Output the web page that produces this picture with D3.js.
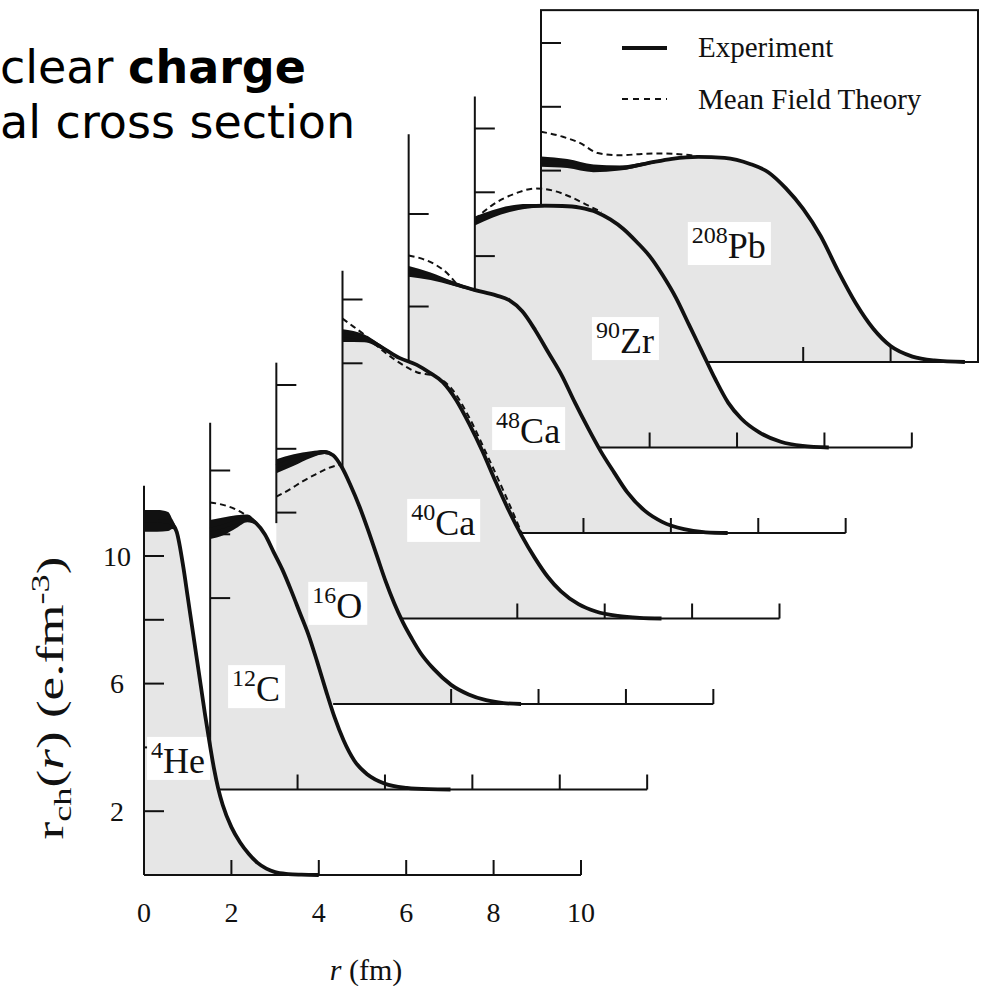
<!DOCTYPE html>
<html><head><meta charset="utf-8">
<script src="https://cdn.jsdelivr.net/npm/d3@7"></script>
<style>body{margin:0;background:#fff}svg{display:block}</style>
</head><body><svg id="c" width="986" height="986"></svg>
<script>
// ---------- data ----------
const labelMass = ["4","12","16","40","48","90","208"];
const labelElem = ["He","C","O","Ca","Ca","Zr","Pb"];
const xTickLabels = ["0","2","4","6","8","10"];
const yTickLabels = ["2","6","10"];

// Experiment: r (fm), rho, error half-width
const rHe   = [0,0.3,0.55,0.65,0.75,0.9,1.0,1.1,1.2,1.3,1.4,1.5,1.6,1.7,1.8,2.0,2.2,2.4,2.6,2.8,3.0,3.3,3.6,4.0];
const expHe = [11.1,11.1,11.08,11.0,10.75,9.65,8.72,7.79,6.86,5.93,5.0,4.15,3.35,2.7,2.2,1.5,1.02,0.66,0.38,0.2,0.09,0.03,0.01,0];
const errHe = [0.34,0.34,0.3,0.15,0.08,0.04,0.03,0.02,0.01,0,0,0,0,0,0,0,0,0,0,0,0,0,0,0];

const rC    = [0,0.3,0.6,0.85,1.05,1.25,1.45,1.65,1.85,2.05,2.25,2.45,2.65,2.85,3.05,3.3,3.6,4.0,4.5,5.0,5.5];
const expC  = [8.15,8.25,8.4,8.5,8.35,8.0,7.45,6.9,6.25,5.55,4.85,4.0,3.1,2.25,1.55,0.9,0.47,0.18,0.05,0.01,0];
const errC  = [0.3,0.28,0.2,0.12,0.06,0.03,0.02,0.01,0,0,0,0,0,0,0,0,0,0,0,0,0];

const rO    = [0,0.4,0.8,1.1,1.3,1.5,1.7,1.9,2.1,2.3,2.5,2.7,2.9,3.1,3.3,3.6,4.0,4.4,4.8,5.2,5.6];
const expO  = [7.45,7.65,7.82,7.9,7.8,7.42,6.85,6.2,5.45,4.65,3.85,3.15,2.55,2.05,1.6,1.1,0.6,0.3,0.12,0.03,0];
const errO  = [0.22,0.18,0.1,0.06,0.03,0.02,0,0,0,0,0,0,0,0,0,0,0,0,0,0,0];

const rCa40   = [0,0.5,0.9,1.3,1.7,2.0,2.3,2.6,2.9,3.2,3.5,3.8,4.1,4.4,4.7,5.0,5.4,5.8,6.3,6.8,7.3];
const expCa40 = [8.87,8.78,8.5,8.17,7.95,7.7,7.4,6.85,6.1,5.25,4.3,3.4,2.6,1.9,1.3,0.85,0.45,0.22,0.08,0.02,0];
const errCa40 = [0.2,0.12,0.06,0.03,0.02,0,0,0,0,0,0,0,0,0,0,0,0,0,0,0,0];

const rCa48   = [0,0.5,1.0,1.5,2.0,2.3,2.6,2.9,3.2,3.5,3.8,4.1,4.4,4.7,5.0,5.4,5.8,6.3,6.8,7.3];
const expCa48 = [8.2,8.05,7.83,7.62,7.45,7.3,6.95,6.35,5.65,4.95,4.1,3.3,2.55,1.9,1.28,0.7,0.35,0.12,0.02,0];
const errCa48 = [0.17,0.12,0.07,0.04,0.02,0,0,0,0,0,0,0,0,0,0,0,0,0,0,0];

const rZr   = [0,0.4,0.8,1.2,1.6,2.0,2.4,2.8,3.1,3.4,3.7,4.0,4.3,4.6,4.9,5.2,5.5,5.8,6.1,6.5,7.0,7.5,8.1];
const expZr = [7.1,7.32,7.48,7.56,7.58,7.57,7.52,7.37,7.15,6.85,6.45,6.0,5.4,4.7,3.85,3.0,2.15,1.4,0.9,0.48,0.18,0.05,0];
const errZr = [0.14,0.12,0.1,0.07,0.05,0.03,0.02,0,0,0,0,0,0,0,0,0,0,0,0,0,0,0,0];

const rPb   = [0,0.6,1.2,1.8,2.4,3.0,3.6,4.2,4.8,5.2,5.6,6.0,6.4,6.8,7.2,7.6,8.0,8.5,9.0,9.7];
const expPb = [6.28,6.22,6.07,6.08,6.22,6.37,6.43,6.4,6.2,5.95,5.45,4.8,3.95,2.85,1.85,1.05,0.5,0.17,0.05,0];
const errPb = [0.16,0.14,0.12,0.08,0.05,0.03,0.02,0,0,0,0,0,0,0,0,0,0,0,0,0];

// Mean field theory (where it departs from experiment)
const mftRC    = [0,0.4,0.7,0.9,1.05];
const mftC     = [9.0,8.88,8.7,8.52,8.35];
const mftRO    = [0,0.3,0.6,0.9,1.2,1.45];
const mftO     = [6.5,6.72,6.98,7.2,7.4,7.5];
const mftRCa40 = [0,0.25,0.5,0.9,1.3,1.7,2.1,2.5,2.9,3.3,3.7,4.1];
const mftCa40  = [9.4,9.15,8.9,8.42,8.02,7.72,7.6,7.2,6.3,5.15,3.95,2.68];
const mftRCa48 = [0,0.3,0.6,0.9,1.1];
const mftCa48  = [8.7,8.6,8.42,8.12,7.8];
const mftRZr   = [0,0.4,0.9,1.4,1.8,2.2,2.6,2.9];
const mftZr    = [7.15,7.6,7.95,8.12,8.05,7.85,7.58,7.38];
const mftRPb   = [0,0.5,0.9,1.3,1.8,2.3,2.8,3.3,3.6];
const mftPb    = [7.22,7.06,6.86,6.55,6.48,6.52,6.54,6.5,6.45];

// per-panel axis extents / ticks (data units)
const yAxisTop    = [12.2,11.5,10.7,10.9,12.5,11.0,11.03];
const yAxisBottom = [0,0,5.67,0,0,0,0];
const xAxisStart  = [0,0,1.3,0,0,0,0];
const yTicks = [[2,4,6,8,10],[6,8,10],[6,8,10],[8,10],[7.1,10],[6,8,10],[6,8,10]];
const xTicks = [[2,4,6,8,10],[2,4,6,8,10],[4,6,8,10],[4,6,8,10],[4,6,8,10],[2,4,6,8,10],[6,8]];
const labelAt = [[0.07,3.2],[0.41,2.77],[0.73,2.7],[1.48,2.62],[1.91,2.82],[2.68,2.96],[3.36,3.26]];

const panels = [
  {r:rHe,v:expHe,e:errHe,mr:[],mv:[]},
  {r:rC,v:expC,e:errC,mr:mftRC,mv:mftC},
  {r:rO,v:expO,e:errO,mr:mftRO,mv:mftO},
  {r:rCa40,v:expCa40,e:errCa40,mr:mftRCa40,mv:mftCa40},
  {r:rCa48,v:expCa48,e:errCa48,mr:mftRCa48,mv:mftCa48},
  {r:rZr,v:expZr,e:errZr,mr:mftRZr,mv:mftZr},
  {r:rPb,v:expPb,e:errPb,mr:mftRPb,mv:mftPb}
];

// ---------- layout ----------
const svg = d3.select("#c");
svg.append("rect").attr("width",986).attr("height",986).attr("fill","#fff");
const x = d3.scaleLinear().domain([0,10]).range([0,437]);
const y = d3.scaleLinear().domain([0,12]).range([0,-382.8]);
const ox0=144, oy0=875, ox1=541, oy1=362;
const n = panels.length;
const stepX=(ox1-ox0)/(n-1), stepY=(oy1-oy0)/(n-1);
const FILL="#e6e6e6", INK="#111";
const serif="Liberation Serif, Times New Roman, serif";

// top-left partial caption
const cap1 = svg.append("text").attr("x",0).attr("y",83)
  .style("font-family","DejaVu Sans").style("font-size","46px").attr("fill","#000");
cap1.append("tspan").text("clear ");
cap1.append("tspan").style("font-weight","bold").text("charge");
svg.append("text").attr("x",0).attr("y",138)
  .style("font-family","DejaVu Sans").style("font-size","46px").attr("fill","#000").text("al cross section");

for (let i=n-1;i>=0;i--){
  const p = panels[i];
  const g = svg.append("g").attr("transform",`translate(${ox0+i*stepX},${oy0+i*stepY})`);
  const pts = p.r.map((r,k)=>({r, v:p.v[k], e:p.e[k]}));
  if (i===n-1){
    g.append("rect").attr("x",0).attr("y",y(yAxisTop[i])).attr("width",x(10)).attr("height",-y(yAxisTop[i]))
      .attr("fill","#fff").attr("stroke",INK).attr("stroke-width",2);
  }
  // gray fill under the curve
  g.append("path").datum(pts)
    .attr("d", d3.area().x(d=>x(d.r)).y0(y(0)).y1(d=>y(d.v+d.e)).curve(d3.curveMonotoneX))
    .attr("fill",FILL);
  // axes
  g.append("line").attr("x1",0).attr("x2",0).attr("y1",y(yAxisBottom[i])).attr("y2",y(yAxisTop[i]))
    .attr("stroke",INK).attr("stroke-width",2);
  yTicks[i].forEach(t=>g.append("line").attr("x1",0).attr("x2",20).attr("y1",y(t)).attr("y2",y(t))
    .attr("stroke",INK).attr("stroke-width",2));
  g.append("line").attr("x1",x(xAxisStart[i])).attr("x2",x(10)).attr("y1",0).attr("y2",0)
    .attr("stroke",INK).attr("stroke-width",2);
  xTicks[i].forEach(t=>g.append("line").attr("x1",x(t)).attr("x2",x(t)).attr("y1",0).attr("y2",-15)
    .attr("stroke",INK).attr("stroke-width",2));
  // nucleus label
  const lx=x(labelAt[i][0]), ly=y(labelAt[i][1]);
  const lg=g.append("g");
  const lr=lg.append("rect");
  const lt=lg.append("text").attr("x",lx+4).attr("y",ly).style("font-family",serif).attr("fill",INK);
  lt.append("tspan").attr("font-size",24).attr("dy",-15).text(labelMass[i]);
  lt.append("tspan").attr("font-size",36).attr("dy",15).text(labelElem[i]);
  const bb=lt.node().getBBox();
  lr.attr("x",lx).attr("y",ly-36).attr("width",bb.width+9).attr("height",43).attr("fill","#fff");
  // mean field theory
  if (p.mr.length){
    g.append("path").datum(p.mr.map((r,k)=>({r,v:p.mv[k]})))
      .attr("d", d3.line().x(d=>x(d.r)).y(d=>y(d.v)).curve(d3.curveMonotoneX))
      .attr("fill","none").attr("stroke",INK).attr("stroke-width",2).attr("stroke-dasharray","6,4");
  }
  // experiment band + line
  g.append("path").datum(pts)
    .attr("d", d3.area().x(d=>x(d.r)).y0(d=>y(d.v-d.e)).y1(d=>y(d.v+d.e)).curve(d3.curveMonotoneX))
    .attr("fill",INK);
  g.append("path").datum(pts)
    .attr("d", d3.line().x(d=>x(d.r)).y(d=>y(d.v)).curve(d3.curveMonotoneX))
    .attr("fill","none").attr("stroke",INK).attr("stroke-width",3.8);
}

// front-panel tick labels
const g0 = svg.append("g").attr("transform",`translate(${ox0},${oy0})`);
xTickLabels.forEach(t=>g0.append("text").attr("x",x(+t)).attr("y",47).attr("text-anchor","middle")
  .style("font-family",serif).style("font-size","28px").attr("fill",INK).text(t));
yTickLabels.forEach(t=>g0.append("text").attr("x",-27).attr("y",y(+t)).attr("dy","0.35em").attr("text-anchor","middle")
  .style("font-family",serif).style("font-size","28px").attr("fill",INK).text(t));

// axis titles
const xt = svg.append("text").attr("x",366).attr("y",980).attr("text-anchor","middle")
  .style("font-family",serif).style("font-size","30px").attr("fill",INK);
xt.append("tspan").style("font-style","italic").text("r");
xt.append("tspan").text(" (fm)");

const yl = svg.append("text").attr("transform","translate(63,698) rotate(-90)").attr("text-anchor","middle")
  .style("font-family",serif).style("font-size","38px").attr("fill",INK)
  .attr("textLength",283).attr("lengthAdjust","spacingAndGlyphs");
yl.append("tspan").text("r");
yl.append("tspan").attr("font-size",26).attr("dy",8).text("ch");
yl.append("tspan").attr("dy",-8).text("(");
yl.append("tspan").style("font-style","italic").text("r");
yl.append("tspan").text(") (e.fm");
yl.append("tspan").attr("font-size",26).attr("dy",-14).text("-3");
yl.append("tspan").attr("dy",14).text(")");

// legend
const leg = svg.append("g");
leg.append("line").attr("x1",622).attr("x2",667).attr("y1",48).attr("y2",48).attr("stroke",INK).attr("stroke-width",4);
leg.append("line").attr("x1",622).attr("x2",667).attr("y1",99).attr("y2",99).attr("stroke",INK).attr("stroke-width",2).attr("stroke-dasharray","6,5");
leg.append("text").attr("x",698).attr("y",57).style("font-family",serif).style("font-size","29px").attr("fill",INK).text("Experiment");
leg.append("text").attr("x",698).attr("y",109).style("font-family",serif).style("font-size","29px").attr("fill",INK).text("Mean Field Theory");
</script></body></html>
